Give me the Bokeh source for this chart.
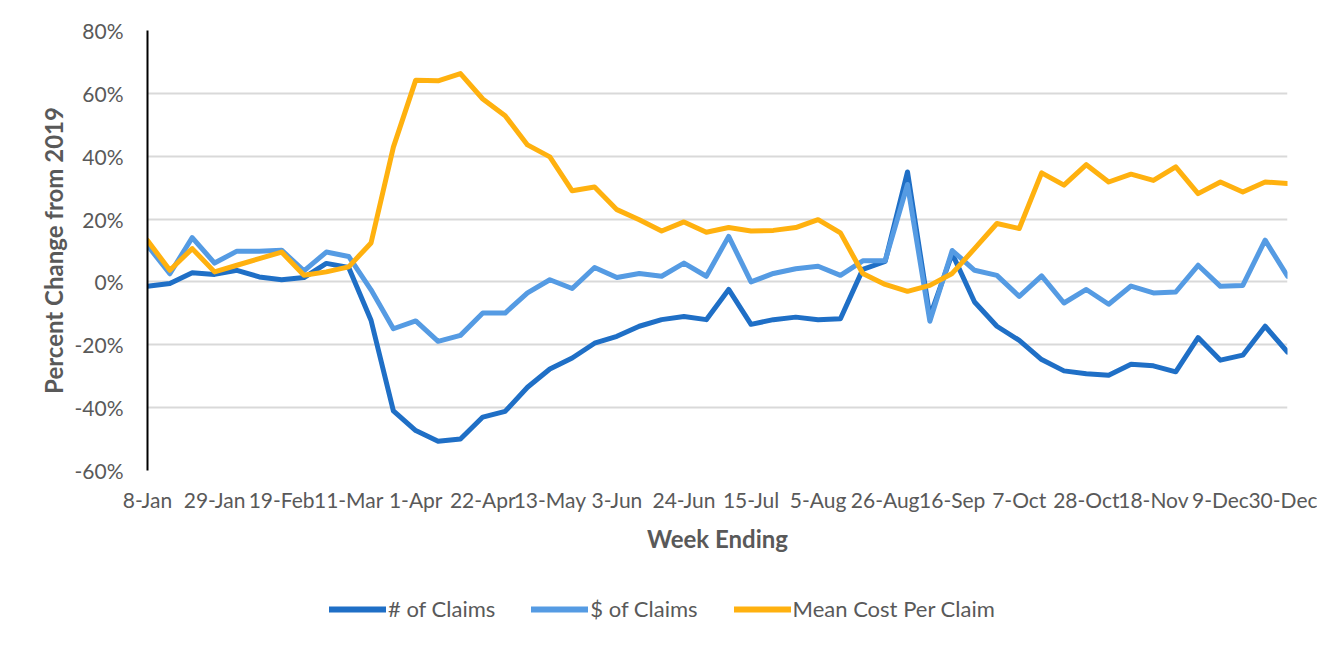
from bokeh.plotting import figure
from bokeh.layouts import column
from bokeh.models import Range1d, FixedTicker, PrintfTickFormatter, Legend, LegendItem
from bokeh.embed import file_html
from bokeh.resources import INLINE

# ---- data ----
weeks = list(range(52))  # week index, 8-Jan ... 30-Dec (weekly)
tick_labels = ["8-Jan", "29-Jan", "19-Feb", "11-Mar", "1-Apr", "22-Apr", "13-May", "3-Jun",
               "24-Jun", "15-Jul", "5-Aug", "26-Aug", "16-Sep", "7-Oct", "28-Oct", "18-Nov",
               "9-Dec", "30-Dec"]
num_claims = [-1.4, -0.5, 2.9, 2.4, 3.7, 1.6, 0.7, 1.4, 5.9, 4.6,
              -12.2, -41.0, -47.3, -50.7, -50.0, -43.0, -41.2, -33.5, -27.7, -24.2,
              -19.5, -17.3, -14.1, -12.0, -11.0, -12.0, -2.4, -13.5, -12.0, -11.2,
              -12.0, -11.7, 4.0, 6.5, 35.0, -11.0, 9.0, -6.4, -14.1, -18.6,
              -24.7, -28.3, -29.2, -29.7, -26.2, -26.7, -28.6, -17.7, -24.9, -23.3,
              -14.1, -22.3]
dollar_claims = [11.6, 2.6, 14.1, 6.0, 9.8, 9.8, 10.1, 3.5, 9.5, 8.1,
                 -2.5, -14.9, -12.4, -18.9, -17.0, -9.9, -9.9, -3.5, 0.7, -2.1,
                 4.6, 1.4, 2.7, 1.8, 6.0, 1.8, 14.5, 0.0, 2.7, 4.2,
                 5.0, 2.1, 6.7, 6.7, 31.0, -12.5, 10.0, 3.7, 2.1, -4.6,
                 1.9, -6.7, -2.4, -7.1, -1.3, -3.5, -3.2, 5.3, -1.4, -1.1,
                 13.3, 1.8]
mean_cost = [13.2, 3.7, 10.6, 3.2, 5.3, 7.4, 9.5, 2.1, 3.2, 4.8,
             12.4, 42.9, 64.2, 64.0, 66.3, 58.2, 52.9, 43.6, 39.8, 29.0,
             30.2, 23.0, 19.8, 16.2, 19.1, 15.8, 17.3, 16.2, 16.4, 17.3,
             19.8, 15.6, 2.7, -0.8, -3.0, -1.1, 2.7, 10.6, 18.6, 17.0,
             34.7, 30.8, 37.3, 31.8, 34.3, 32.3, 36.6, 28.1, 31.8, 28.6,
             31.8, 31.3]
series_names = ["# of Claims", "$ of Claims", "Mean Cost Per Claim"]
colors = ["#1F6FC6", "#559BE3", "#FFB10F"]

TEXT = "#595959"
FONT = "Lato"

p = figure(width=1317, height=560, output_backend="svg", toolbar_location=None,
           x_range=Range1d(0, 51), y_range=Range1d(-60, 80),
           min_border_left=147, min_border_right=30, min_border_top=30, min_border_bottom=90,
           background_fill_color="white", border_fill_color="white")
p.outline_line_color = None

for vals, c in zip([num_claims, dollar_claims, mean_cost], colors):
    p.line(weeks, vals, line_color=c, line_width=5, line_join="round", line_cap="round")

# x axis
p.xaxis.ticker = FixedTicker(ticks=weeks[::3])
p.xaxis.major_label_overrides = {w: lab for w, lab in zip(weeks[::3], tick_labels)}
p.xaxis.axis_line_color = None
p.xaxis.major_tick_line_color = None
p.xaxis.minor_tick_line_color = None
p.xaxis.major_label_text_font = FONT
p.xaxis.major_label_text_font_size = "21px"
p.xaxis.major_label_text_color = TEXT
p.xaxis.major_label_standoff = 10
p.xaxis.axis_label = "Week Ending"
p.xaxis.axis_label_text_font = FONT
p.xaxis.axis_label_text_font_style = "bold"
p.xaxis.axis_label_text_font_size = "24px"
p.xaxis.axis_label_text_color = TEXT
p.xaxis.axis_label_standoff = 9

# y axis
p.yaxis.ticker = FixedTicker(ticks=[-60, -40, -20, 0, 20, 40, 60, 80])
p.yaxis.formatter = PrintfTickFormatter(format="%d%%")
p.yaxis.axis_line_color = "black"
p.yaxis.axis_line_width = 2
p.yaxis.major_tick_line_color = None
p.yaxis.minor_tick_line_color = None
p.yaxis.major_label_text_font = FONT
p.yaxis.major_label_text_font_size = "21px"
p.yaxis.major_label_text_color = TEXT
p.yaxis.major_label_standoff = 18
p.yaxis.axis_label = "Percent Change from 2019"
p.yaxis.axis_label_text_font = FONT
p.yaxis.axis_label_text_font_style = "bold"
p.yaxis.axis_label_text_font_size = "24px"
p.yaxis.axis_label_text_color = TEXT
p.yaxis.axis_label_standoff = 4

p.xgrid.grid_line_color = None
p.ygrid.grid_line_color = "#D9D9D9"
p.ygrid.grid_line_width = 2

# legend strip below the chart (proxy lines lie outside its visible range)
lg = figure(width=1317, height=90, output_backend="svg", toolbar_location=None,
            x_range=Range1d(0, 1), y_range=Range1d(0, 1),
            x_axis_location=None, y_axis_location=None,
            min_border_left=0, min_border_right=0, min_border_top=0, min_border_bottom=0,
            background_fill_color="white", border_fill_color="white")
lg.outline_line_color = None
lg.grid.visible = False
items = []
for n, c in zip(series_names, colors):
    r = lg.line(x=[-10, -9], y=[-10, -10], line_color=c, line_width=6, line_cap="round")
    items.append(LegendItem(label=n, renderers=[r]))
legend = Legend(items=items, orientation="horizontal", location=(182, 28),
                glyph_width=57, glyph_height=20, label_standoff=2, spacing=36,
                padding=5, margin=0, border_line_color=None, background_fill_alpha=0,
                label_text_font=FONT, label_text_font_size="22px", label_text_color=TEXT)
lg.add_layout(legend, "center")

layout = column(p, lg, spacing=0)
open("out.html", "w").write(file_html(layout, INLINE))
